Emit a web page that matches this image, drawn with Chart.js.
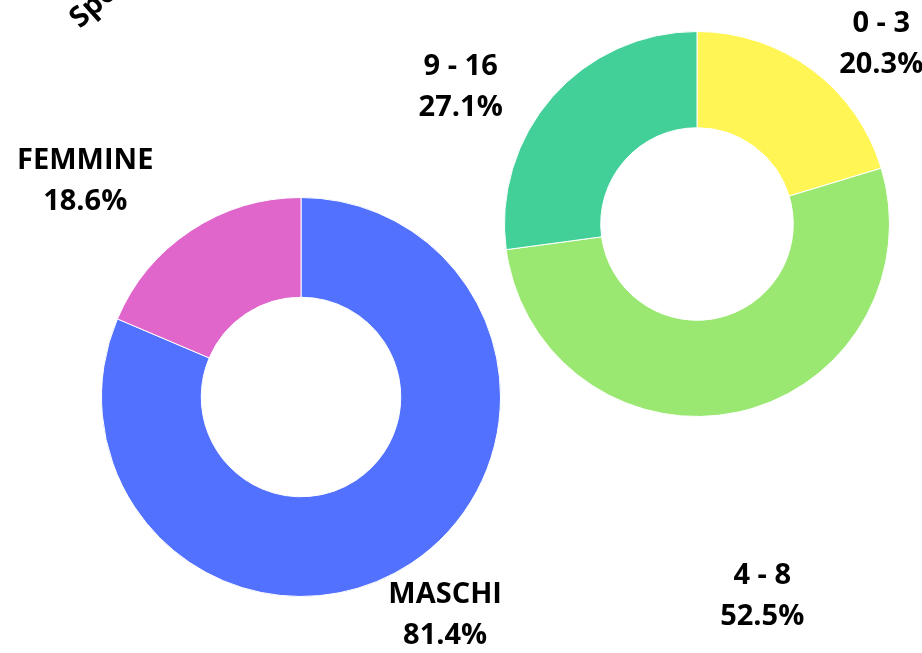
<!DOCTYPE html>
<html>
<head>
<meta charset="utf-8">
<script src="https://cdn.jsdelivr.net/npm/chart.js@4"></script>
<style>
  html, body { margin: 0; padding: 0; background: #ffffff; }
  .wrap { position: relative; width: 922px; height: 653px; overflow: hidden; }
  .wrap canvas { position: absolute; left: 0; top: 0; }
</style>
</head>
<body>
<div class="wrap">
  <canvas id="sexChart" width="922" height="653"></canvas>
  <canvas id="ageChart" width="922" height="653"></canvas>
</div>
<script>
// sesso
const sexLabels = ["MASCHI", "FEMMINE"];
const sexValues = [81.4, 18.6];
const sexColors = ["#5271FF", "#E066CB"];

// fasce d'età
const ageLabels = ["0 - 3", "4 - 8", "9 - 16"];
const ageValues = [20.3, 52.5, 27.1];
const ageColors = ["#FFF655", "#9AE872", "#42D098"];

const titleText = "Sportivi per sesso e fascia d'età";

const FONT = "'Open Sans', 'DejaVu Sans', sans-serif";

// label placement: radius factor and angle nudge (degrees) relative to slice middle
function outerLabels(id, radiusK, angleNudge) {
  return {
    id: id,
    afterDraw(chart) {
      const { ctx } = chart;
      const meta = chart.getDatasetMeta(0);
      const values = chart.data.datasets[0].data;
      ctx.save();
      ctx.fillStyle = "#000000";
      ctx.font = "bold 29px " + FONT;
      ctx.textAlign = "center";
      ctx.textBaseline = "middle";
      meta.data.forEach((arc, i) => {
        const p = arc.getProps(["x", "y", "startAngle", "endAngle", "outerRadius"], true);
        const mid = (p.startAngle + p.endAngle) / 2 + angleNudge[i] * Math.PI / 180;
        const r = p.outerRadius * radiusK[i];
        const x = p.x + Math.cos(mid) * r;
        const y = p.y + Math.sin(mid) * r;
        ctx.fillText(chart.data.labels[i], x, y - 20);
        ctx.fillText(values[i].toFixed(1) + "%", x, y + 21);
      });
      ctx.restore();
    }
  };
}

const titlePlugin = {
  id: "rotTitle",
  afterDraw(chart) {
    const { ctx } = chart;
    ctx.save();
    ctx.translate(80, 29);
    ctx.rotate(-42 * Math.PI / 180);
    ctx.fillStyle = "#000000";
    ctx.font = "bold 29px " + FONT;
    ctx.textAlign = "left";
    ctx.textBaseline = "alphabetic";
    ctx.fillText(titleText, 0, 0);
    ctx.restore();
  }
};

function donut(canvasId, labels, values, colors, padding, plugins) {
  return new Chart(document.getElementById(canvasId), {
    type: "doughnut",
    data: {
      labels: labels,
      datasets: [{
        data: values,
        backgroundColor: colors,
        borderColor: "#ffffff",
        borderWidth: 1,
        hoverOffset: 0
      }]
    },
    options: {
      responsive: false,
      animation: false,
      cutout: "50%",
      layout: { padding: padding },
      plugins: {
        legend: { display: false },
        tooltip: { enabled: false },
        title: { display: false }
      }
    },
    plugins: plugins
  });
}

donut("sexChart", sexLabels, sexValues, sexColors,
  { left: 101, right: 421, top: 197, bottom: 56 },
  [outerLabels("sexLabels", [1.31, 1.53], [0, -11.5]), titlePlugin]);

donut("ageChart", ageLabels, ageValues, ageColors,
  { left: 504, right: 32, top: 31, bottom: 236 },
  [outerLabels("ageLabels", [1.34, 1.96, 1.42], [9.0, 2.3, -11])]);
</script>
</body>
</html>
